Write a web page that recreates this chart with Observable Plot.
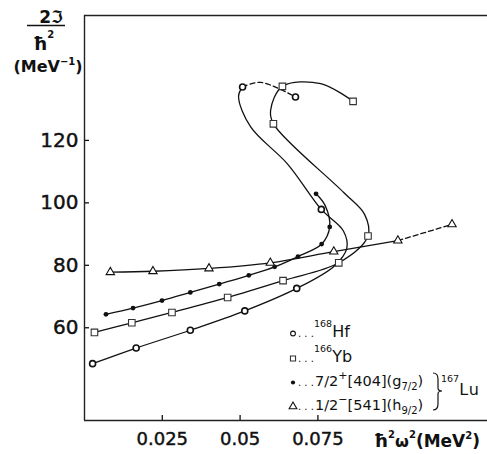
<!DOCTYPE html>
<html><head><meta charset="utf-8">
<script src="https://cdn.jsdelivr.net/npm/d3@7"></script>
<script src="https://cdn.jsdelivr.net/npm/@observablehq/plot@0.6"></script>
<style>
html,body{margin:0;padding:0;background:#fff;}
#chart svg{display:block;}
#chart g[aria-label$="tick label"] text{stroke:#111;stroke-width:0.45px;}
</style></head><body><div id="chart"></div>
<script>
// ---- axes ----
const xTicks = [0.025, 0.05, 0.075];
const xTickLabels = ["0.025", "0.05", "0.075"];
const yTicks = [60, 80, 100, 120];
const xDomain = [0, 0.1295];
const yDomain = [30.3, 160];

// ---- data: x = ħ²ω² (MeV²), y = 2ℑ/ħ² (MeV⁻¹) ----
// mark: 1 = measured point (symbol), 0 = vertex of the hand-drawn curve
// dash: 1 = segment arriving at this point is dashed
const hfX = [0.0026, 0.0166, 0.0340, 0.0515, 0.0682, 0.0803, 0.0843, 0.0832, 0.0761, 0.0652, 0.0534, 0.0495, 0.0508, 0.0566, 0.0678];
const hfY = [48.5, 53.5, 59.2, 65.4, 72.6, 79.8, 85.5, 91.0, 97.9, 112.5, 124.3, 134.1, 137.1, 138.6, 133.9];
const hfMark = [1, 1, 1, 1, 1, 0, 0, 0, 1, 0, 0, 0, 1, 0, 1];
const hfDash = [0, 0, 0, 0, 0, 0, 0, 0, 0, 0, 0, 0, 0, 1, 1];

const ybX = [0.0032, 0.0152, 0.0281, 0.0460, 0.0638, 0.0817, 0.0911, 0.0900, 0.0833, 0.0607, 0.0598, 0.0636, 0.0759, 0.0863];
const ybY = [58.5, 61.6, 64.9, 69.7, 75.1, 80.8, 89.4, 96.3, 103.3, 125.3, 129.6, 137.3, 138.2, 132.5];
const ybMark = [1, 1, 1, 1, 1, 1, 1, 0, 0, 1, 0, 1, 0, 1];
const ybDash = [0, 0, 0, 0, 0, 0, 0, 0, 0, 0, 0, 0, 0, 0];

const lugX = [0.0069, 0.0156, 0.0249, 0.0340, 0.0433, 0.0528, 0.0611, 0.0686, 0.0762, 0.0788, 0.0773, 0.0744];
const lugY = [64.3, 66.3, 68.7, 71.3, 74.0, 76.8, 79.5, 82.8, 86.8, 92.3, 99.2, 102.9];
const lugMark = [1, 1, 1, 1, 1, 1, 1, 1, 1, 1, 0, 1];
const lugDash = [0, 0, 0, 0, 0, 0, 0, 0, 0, 0, 0, 0];

const luhX = [0.0083, 0.0220, 0.0400, 0.0597, 0.0801, 0.1007, 0.1181];
const luhY = [77.8, 78.1, 79.0, 80.8, 84.4, 87.9, 93.1];
const luhMark = [1, 1, 1, 1, 1, 1, 1];
const luhDash = [0, 0, 0, 0, 0, 0, 1];

// ---- legend text ----
const legendNuclei = [["168", "Hf"], ["166", "Yb"]];
const legendOrbitals = [["7/2", "+", "[404](g", "7/2", ")"], ["1/2", "−", "[541](h", "9/2", ")"]];
const legendLu = ["167", "Lu"];

function series(name, xs, ys, marks, dashes) {
  return xs.map((x, i) => ({name, x, y: ys[i], mark: marks[i], dash: dashes[i]}));
}
function runs(pts, dashed) {
  const out = [];
  let k = 0, open = false;
  for (let i = 1; i < pts.length; i++) {
    if ((pts[i].dash === 1) === dashed) {
      if (!open) { k++; out.push({...pts[i - 1], run: pts[0].name + k}); open = true; }
      out.push({...pts[i], run: pts[0].name + k});
    } else open = false;
  }
  return out;
}
const hf = series("hf", hfX, hfY, hfMark, hfDash);
const yb = series("yb", ybX, ybY, ybMark, ybDash);
const lug = series("lug", lugX, lugY, lugMark, lugDash);
const luh = series("luh", luhX, luhY, luhMark, luhDash);
const all = [hf, yb, lug, luh];
const solid = all.flatMap(s => runs(s, false));
const dashed = all.flatMap(s => runs(s, true));
const ink = "#111";

const chart = Plot.plot({
  width: 487, height: 454,
  marginLeft: 84, marginRight: 0, marginTop: 15, marginBottom: 34,
  style: {background: "#fff", fontFamily: "DejaVu Sans", color: ink, overflow: "visible"},
  x: {domain: xDomain},
  y: {domain: yDomain},
  marks: [
    Plot.axisX({ticks: xTicks, tickFormat: d => xTickLabels[xTicks.indexOf(d)], tickSize: -5, tickPadding: 17, fontSize: 18, label: null, strokeWidth: 1.3}),
    Plot.axisY({ticks: yTicks, tickSize: -5, tickPadding: 11, fontSize: 20, label: null, strokeWidth: 1.3}),
    Plot.ruleX([0], {stroke: "#222", strokeWidth: 1.4}),
    Plot.ruleY(yDomain, {stroke: "#222", strokeWidth: 1.4}),
    Plot.line(solid, {x: "x", y: "y", z: "run", curve: "catmull-rom", stroke: ink, strokeWidth: 1.3}),
    Plot.line(dashed, {x: "x", y: "y", z: "run", curve: "catmull-rom", stroke: ink, strokeWidth: 1.3, strokeDasharray: "5,3"}),
    Plot.dot(lug.filter(d => d.mark), {x: "x", y: "y", symbol: "circle", r: 2.4, fill: ink, stroke: "none"}),
    Plot.dot(luh.filter(d => d.mark), {x: "x", y: "y", symbol: "triangle", r: 3.1, fill: "white", stroke: ink, strokeWidth: 1.1}),
    Plot.dot(hf.filter(d => d.mark), {x: "x", y: "y", symbol: "circle", r: 3, fill: "white", stroke: ink, strokeWidth: 1.6}),
    Plot.dot(yb.filter(d => d.mark), {x: "x", y: "y", symbol: "square", r: 3.7, fill: "white", stroke: "#333", strokeWidth: 1.1})
  ]
});
document.getElementById("chart").appendChild(chart);

const svg = d3.select(chart);
const g = svg.append("g").attr("font-family", "DejaVu Sans").attr("fill", ink).attr("text-anchor", "start");

// y-axis title: 2ℑ / ħ² (MeV⁻¹)
g.append("text").attr("x", 51).attr("y", 23).attr("text-anchor", "middle")
  .attr("font-size", 17).attr("font-weight", "bold").text("2ℑ");
g.append("line").attr("x1", 27).attr("x2", 65).attr("y1", 25.5).attr("y2", 25.5)
  .attr("stroke", ink).attr("stroke-width", 1.6);
const hb = g.append("text").attr("x", 33).attr("y", 50).attr("font-weight", "bold").attr("font-size", 18);
hb.append("tspan").text("ħ");
hb.append("tspan").attr("dy", -12).attr("font-size", 10).text("2");
const mev = g.append("text").attr("x", 48).attr("y", 72).attr("text-anchor", "middle").attr("font-weight", "bold").attr("font-size", 16);
mev.append("tspan").text("(MeV");
mev.append("tspan").attr("dy", -7).attr("font-size", 10).text("−1");
mev.append("tspan").attr("dy", 7).text(")");

// x-axis title: ħ²ω²(MeV²)
const xt = g.append("text").attr("x", 480).attr("y", 447).attr("text-anchor", "end").attr("font-weight", "bold").attr("font-size", 17);
xt.append("tspan").attr("font-size", 18).text("ħ");
xt.append("tspan").attr("dy", -9).attr("font-size", 10).text("2");
xt.append("tspan").attr("dy", 9).attr("font-size", 16).text("ω");
xt.append("tspan").attr("dy", -9).attr("font-size", 10).text("2");
xt.append("tspan").attr("dy", 9).text("(MeV");
xt.append("tspan").attr("dy", -8).attr("font-size", 10).text("2");
xt.append("tspan").attr("dy", 8).text(")");

// legend
const symX = 293;
const rowY = [337, 362, 386, 410];
const symbols = [
  {t: d3.symbolCircle, s: 18, fill: "white", stroke: ink},
  {t: d3.symbolSquare, s: 26, fill: "white", stroke: "#333"},
  {t: d3.symbolCircle, s: 14, fill: ink, stroke: "none"},
  {t: d3.symbolTriangle, s: 26, fill: "white", stroke: ink}
];
symbols.forEach((s, i) => {
  g.append("path").attr("d", d3.symbol(s.t, s.s)())
    .attr("transform", `translate(${symX},${rowY[i] - 3.5})`)
    .attr("fill", s.fill).attr("stroke", s.stroke).attr("stroke-width", 1.1);
  g.append("text").attr("x", 298).attr("y", rowY[i]).attr("font-size", 10).text(". . .");
});
legendNuclei.forEach(([a, el], i) => {
  const t = g.append("text").attr("x", 314).attr("y", rowY[i] - 10).attr("font-size", 9.5);
  t.append("tspan").text(a);
  t.append("tspan").attr("dy", 10).attr("font-size", 16).text(el);
});
legendOrbitals.forEach(([k, p, nl, j, c], i) => {
  const t = g.append("text").attr("x", 315).attr("y", rowY[i + 2]).attr("font-size", 14.5);
  t.append("tspan").text(k);
  t.append("tspan").attr("dy", -7).attr("font-size", 11).text(p);
  t.append("tspan").attr("dy", 7).text(nl);
  t.append("tspan").attr("dy", 4).attr("font-size", 10).text(j);
  t.append("tspan").attr("dy", -4).text(c);
});
g.append("path").attr("d", "M433,373 Q438,373 438,379 L438,388 Q438,391 442,391 Q438,391 438,394 L438,404 Q438,410 433,410")
  .attr("fill", "none").attr("stroke", ink).attr("stroke-width", 1.2);
const lu = g.append("text").attr("x", 441).attr("y", 382).attr("font-size", 9.5);
lu.append("tspan").text(legendLu[0]);
lu.append("tspan").attr("dy", 13).attr("font-size", 16).attr("letter-spacing", 1).text(legendLu[1]);
</script>
</body></html>
